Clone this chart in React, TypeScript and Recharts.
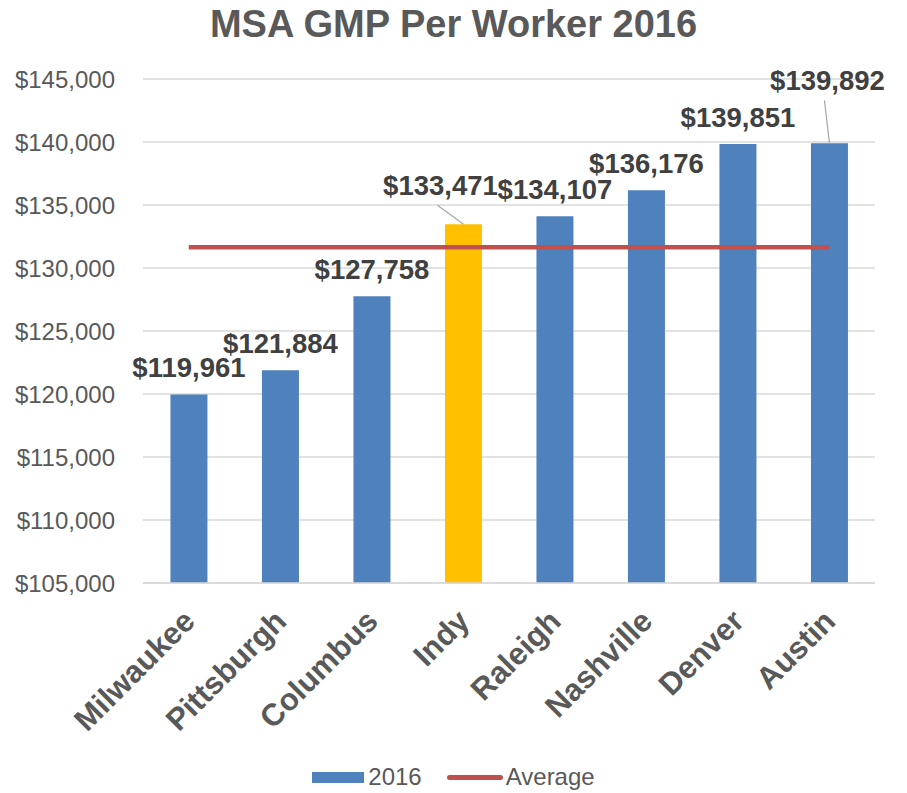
import {
  ComposedChart,
  Bar,
  Line,
  Cell,
  XAxis,
  YAxis,
  CartesianGrid,
  Legend,
  LabelList,
} from "recharts";

const cities = [
  "Milwaukee",
  "Pittsburgh",
  "Columbus",
  "Indy",
  "Raleigh",
  "Nashville",
  "Denver",
  "Austin",
];
const gmp2016 = [119961, 121884, 127758, 133471, 134107, 136176, 139851, 139892];
const yTicks = [105000, 110000, 115000, 120000, 125000, 130000, 135000, 140000, 145000];

const average = gmp2016.reduce((s, v) => s + v, 0) / gmp2016.length;

const data = cities.map((city, i) => ({
  city,
  value: gmp2016[i],
  avg: average,
}));

const FONT = "'Liberation Sans', Arial, sans-serif";
const BLUE = "#4F81BD";
const GOLD = "#FFC000";
const RED = "#C0504D";
const GRAY = "#595959";
const HIGHLIGHT = "Indy";

// labels Excel moved by hand, with a leader line back to the bar
const labelNudge: Record<string, { dx: number; dy: number }> = {
  Indy: { dx: -23, dy: -12 },
  Austin: { dx: -2, dy: -36 },
};

const money = (v: number) => `$${Math.round(v).toLocaleString("en-US")}`;

function ValueLabel(props: any) {
  const { x, y, width, value, index } = props;
  const cx = x + width / 2;
  const nudge = labelNudge[cities[index]];
  const lx = cx + (nudge ? nudge.dx : 0);
  const base = y - 17 + (nudge ? nudge.dy : 0);
  return (
    <g>
      {nudge && (
        <line
          x1={lx - 3}
          y1={base + 10}
          x2={cx}
          y2={y}
          stroke="#A6A6A6"
          strokeWidth={1.2}
        />
      )}
      <text
        x={lx}
        y={base}
        textAnchor="middle"
        fontFamily={FONT}
        fontWeight="bold"
        fontSize={27.5}
        fill="#404040"
      >
        {money(value)}
      </text>
    </g>
  );
}

function CityTick(props: any) {
  const { x, y, payload } = props;
  const tx = x + 8;
  const ty = y + 32;
  return (
    <text
      x={tx}
      y={ty}
      transform={`rotate(-45 ${tx} ${ty})`}
      textAnchor="end"
      fontFamily={FONT}
      fontWeight="bold"
      fontSize={31}
      fill={GRAY}
    >
      {payload.value}
    </text>
  );
}

function ChartLegend() {
  return (
    <div
      style={{
        display: "flex",
        justifyContent: "center",
        alignItems: "center",
        fontFamily: FONT,
        fontSize: 24,
        color: GRAY,
      }}
    >
      <span style={{ display: "inline-block", width: 52, height: 11, background: BLUE, marginRight: 4 }} />
      <span>2016</span>
      <span
        style={{
          display: "inline-block",
          width: 56,
          height: 5,
          borderRadius: 3,
          background: RED,
          marginLeft: 25,
          marginRight: 3,
        }}
      />
      <span>Average</span>
    </div>
  );
}

export default function App() {
  return (
    <div style={{ position: "absolute", left: 0, top: 0, width: 907, height: 793, background: "#fff" }}>
      <div
        style={{
          position: "absolute",
          left: 0,
          top: 3,
          width: 907,
          textAlign: "center",
          fontFamily: FONT,
          fontWeight: "bold",
          fontSize: 38,
          color: GRAY,
        }}
      >
        MSA GMP Per Worker 2016
      </div>
      <ComposedChart
        width={907}
        height={793}
        data={data}
        margin={{ top: 79, right: 32, bottom: 0, left: 0 }}
        barCategoryGap="30%"
      >
        <CartesianGrid vertical={false} stroke="#D9D9D9" strokeWidth={1.5} />
        <XAxis
          dataKey="city"
          height={180}
          interval={0}
          tickLine={false}
          axisLine={{ stroke: "#D9D9D9", strokeWidth: 1.5 }}
          tick={<CityTick />}
        />
        <YAxis
          width={143}
          domain={[105000, 145000]}
          ticks={yTicks}
          allowDataOverflow
          tickLine={false}
          axisLine={false}
          tickMargin={22}
          tickFormatter={money}
          tick={{ fontFamily: FONT, fontSize: 24, fill: GRAY }}
        />
        <Legend
          verticalAlign="bottom"
          height={30}
          wrapperStyle={{ left: 0, width: 907 }}
          content={<ChartLegend />}
        />
        <Bar dataKey="value" name="2016" fill={BLUE} isAnimationActive={false}>
          {data.map((d) => (
            <Cell key={d.city} fill={d.city === HIGHLIGHT ? GOLD : BLUE} />
          ))}
          <LabelList dataKey="value" content={<ValueLabel />} />
        </Bar>
        <Line
          dataKey="avg"
          name="Average"
          stroke={RED}
          strokeWidth={4.5}
          dot={false}
          activeDot={false}
          isAnimationActive={false}
        />
      </ComposedChart>
    </div>
  );
}
